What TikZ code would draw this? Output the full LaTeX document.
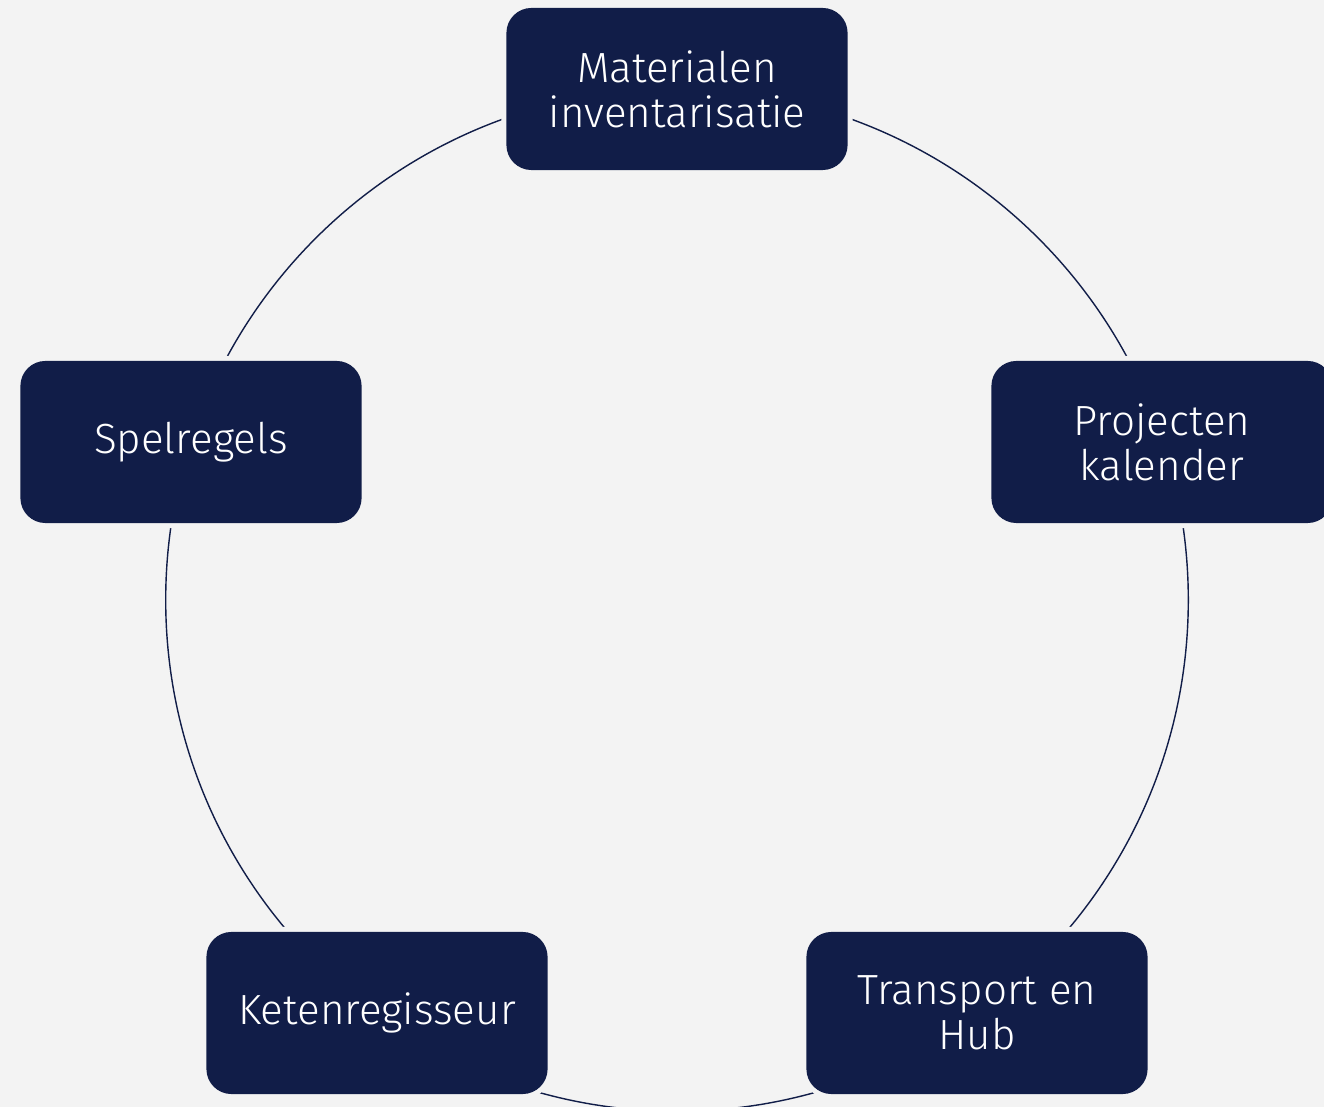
\documentclass[tikz,border=0pt]{standalone}
\usepackage{fontspec}
\setmainfont{Fira Sans Light}
\usepackage{tikz}
\usetikzlibrary{positioning}
\definecolor{navy}{RGB}{17,29,72}
\definecolor{bggray}{RGB}{243,243,243}
\tikzset{
  stepbox/.style={preaction={draw=bggray, line width=0.1cm}, fill=navy, rounded corners=0.25cm,
    minimum width=3.41cm, minimum height=1.62cm, align=center, text=white,
    font=\fontsize{12pt}{12.8pt}\selectfont},
  ring/.style={draw=navy, line width=0.4pt}
}
\begin{document}
\begin{tikzpicture}[x=0.01cm, y=-0.01cm]
		\fill [bggray] (0,0) rectangle (1324,1107);
		\useasboundingbox (0,0) rectangle (1324,1107);
		\coordinate (centre) at (677,600);
		\path [ring] (centre) circle [radius=5.11cm];
		\node [stepbox] (matinv) at (677,89) {Materialen\\inventarisatie};
		\node [stepbox] (projkal) at (1162,442) {Projecten\\kalender};
		\node [stepbox] (transhub) at (977,1013) {Transport en\\Hub};
		\node [stepbox] (keten) at (377,1013) {Ketenregisseur};
		\node [stepbox] (spelregels) at (191,442) {Spelregels};
	\end{tikzpicture}
\end{document}
